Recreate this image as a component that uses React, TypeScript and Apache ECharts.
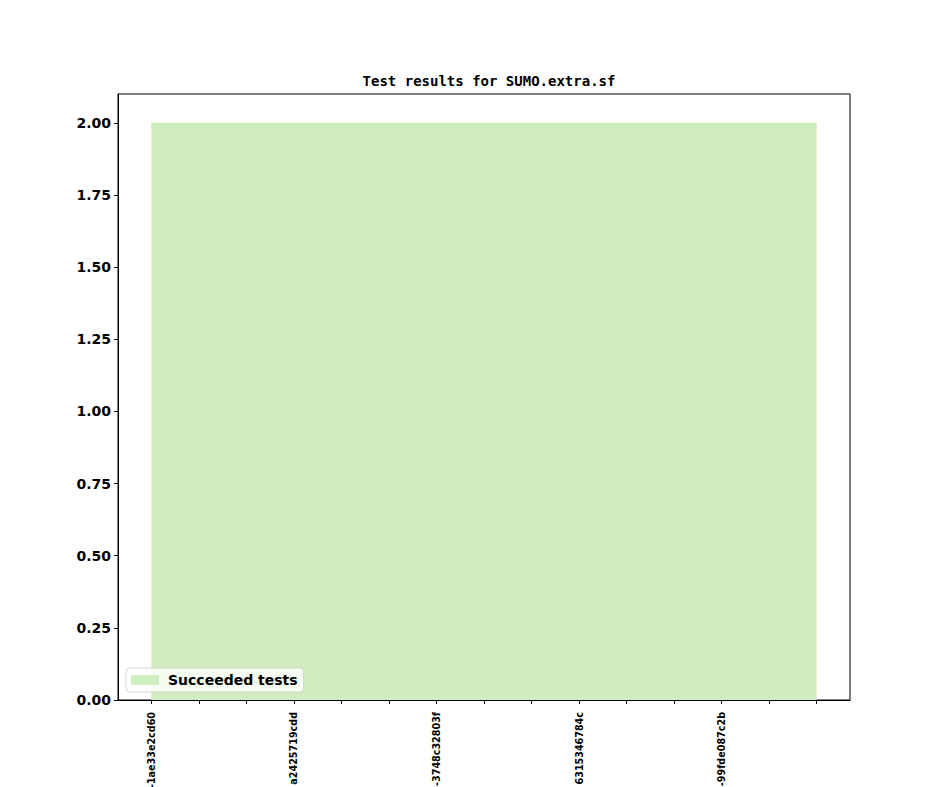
import React, { useEffect, useRef } from 'react';
import * as echarts from 'echarts';

// one entry per run; only every third label is readable in the picture
const runLabels = [
  '-1ae33e2cd60', '', '',
  'a2425719cdd', '', '',
  '-3748c32803f', '', '',
  '6315346784c', '', '',
  '-99fde087c2b', '', '',
];
const succeeded = [2, 2, 2, 2, 2, 2, 2, 2, 2, 2, 2, 2, 2, 2, 2];
const xLabelIdx = [0, 3, 6, 9, 12];
const yTicks = [0, 0.25, 0.5, 0.75, 1, 1.25, 1.5, 1.75, 2];

const FONT = 'DejaVu Sans';

export default function App() {
  const chartRef = useRef<HTMLDivElement>(null);

  useEffect(() => {
    if (!chartRef.current) return;
    const chart = echarts.init(chartRef.current, null, { renderer: 'svg' });
    const n = succeeded.length;
    const pad = (n - 1) * 0.05;

    chart.setOption({
      animation: false,
      backgroundColor: '#fff',
      title: {
        text: 'Test results for SUMO.extra.sf',
        left: 484,
        textAlign: 'center',
        top: 69,
        textStyle: { fontFamily: 'DejaVu Sans Mono', fontWeight: 'bold', fontSize: 14, color: '#000' },
      },
      legend: {
        left: 126,
        top: 668,
        padding: [5, 6, 5, 5],
        itemWidth: 28,
        itemHeight: 10,
        itemGap: 8,
        icon: 'rect',
        backgroundColor: 'rgba(255,255,255,0.8)',
        borderColor: '#d5d5d5',
        borderWidth: 1,
        borderRadius: 4,
        textStyle: { fontFamily: FONT, fontWeight: 'bold', fontSize: 14, color: '#000', padding: [0, 0, 0, 4] },
        data: ['Succeeded tests'],
      },
      grid: {
        left: 118,
        top: 94,
        width: 732,
        height: 606,
        show: true,
        borderColor: '#000',
        borderWidth: 1,
        containLabel: false,
        outerBoundsMode: 'none',
      },
      xAxis: {
        type: 'value',
        min: -pad,
        max: n - 1 + pad,
        splitLine: { show: false },
        axisLine: { show: true, onZero: false, lineStyle: { color: '#000', width: 1 } },
        axisTick: {
          show: true,
          length: 4,
          lineStyle: { color: '#000' },
          customValues: runLabels.map((_, i) => i),
        },
        axisLabel: {
          rotate: 90,
          margin: 12,
          fontFamily: FONT,
          fontWeight: 'bold',
          fontSize: 9.6,
          color: '#000',
          customValues: xLabelIdx,
          formatter: (v: number) => runLabels[Math.round(v)] ?? '',
        },
      },
      yAxis: {
        type: 'value',
        min: 0,
        max: 2.1,
        splitLine: { show: false },
        axisLine: { show: true, onZero: false, lineStyle: { color: '#000', width: 1 } },
        axisTick: { show: true, length: 4, lineStyle: { color: '#000' }, customValues: yTicks },
        axisLabel: {
          margin: 7,
          fontFamily: FONT,
          fontWeight: 'bold',
          fontSize: 14,
          color: '#000',
          customValues: yTicks,
          formatter: (v: number) => v.toFixed(2),
        },
      },
      series: [
        {
          name: 'Succeeded tests',
          type: 'line',
          data: succeeded.map((v, i) => [i, v]),
          symbol: 'none',
          color: '#cfedbf',
          lineStyle: { width: 0 },
          areaStyle: { color: '#cfedbf', opacity: 1 },
          z: 1,
        },
      ],
    });

    return () => chart.dispose();
  }, []);

  return (
    <div style={{ position: 'fixed', left: 0, top: 0, width: 944, height: 787 }}>
      <div ref={chartRef} style={{ width: '100%', height: '100%' }} />
    </div>
  );
}
